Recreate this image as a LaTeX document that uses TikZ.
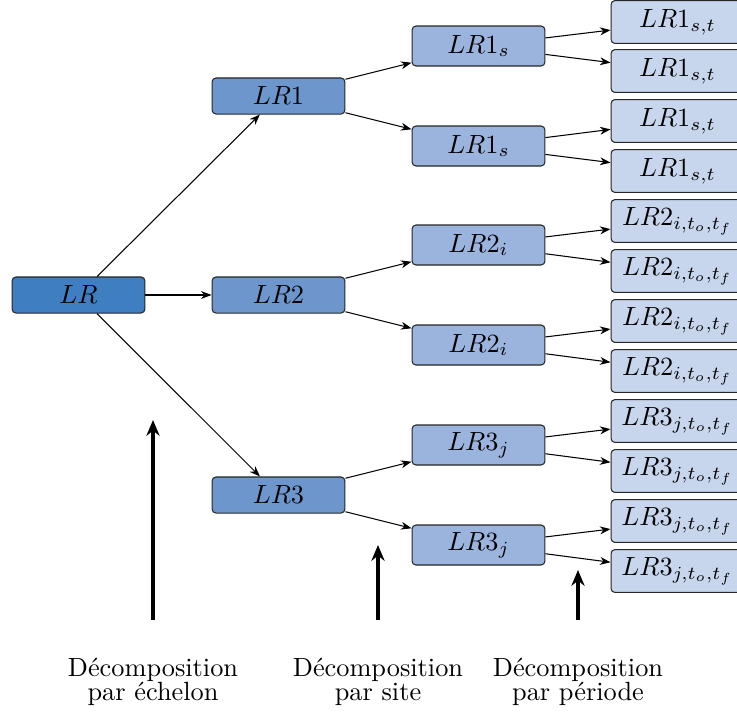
\documentclass[tikz,border=0pt]{standalone}
\usetikzlibrary{arrows.meta}

\definecolor{bleuA}{RGB}{62,126,193}
\definecolor{bleuB}{RGB}{108,150,204}
\definecolor{bleuC}{RGB}{155,180,222}
\definecolor{bleuD}{RGB}{200,214,237}

\tikzset{
  boite/.style={draw=black!85, rounded corners=1.5pt, minimum width=50.5pt, inner sep=2pt},
  niv0/.style={boite, fill=bleuA, minimum height=13.7pt},
  niv1/.style={boite, fill=bleuB, minimum height=13.7pt},
  niv2/.style={boite, fill=bleuC, minimum height=15.2pt},
  niv3/.style={boite, fill=bleuD, minimum height=16.3pt},
  fleche/.style={-{Stealth[length=4pt,width=3pt]}},
  grosse/.style={line width=1.2pt, -{Stealth[length=6pt,width=5pt]}},
  legende/.style={align=center}
}

\begin{document}
\begin{tikzpicture}[x=0.38pt, y=-0.38pt]
    % cadre
    \useasboundingbox (0,0) rectangle (737,715);

    % niveau 0 et 1
    \node[niv0] (LR) at (78.5,295) {$LR$};
    \node[niv1] (LRa) at (278.5,96) {$LR1$};
    \node[niv1] (LRb) at (278.5,295) {$LR2$};
    \node[niv1] (LRc) at (278.5,495) {$LR3$};

    % niveau 2
    \node[niv2] (LRa1) at (478.5,46) {$LR1_s$};
    \node[niv2] (LRa2) at (478.5,146) {$LR1_s$};
    \node[niv2] (LRb1) at (478.5,245) {$LR2_i$};
    \node[niv2] (LRb2) at (478.5,345) {$LR2_i$};
    \node[niv2] (LRc1) at (478.5,445) {$LR3_j$};
    \node[niv2] (LRc2) at (478.5,545) {$LR3_j$};

    % niveau 3
    \node[niv3] (LRa1x) at (677.5,22) {$LR1_{s,t}$};
    \node[niv3] (LRa1y) at (677.5,71) {$LR1_{s,t}$};
    \node[niv3] (LRa2x) at (677.5,121) {$LR1_{s,t}$};
    \node[niv3] (LRa2y) at (677.5,171) {$LR1_{s,t}$};
    \node[niv3] (LRb1x) at (677.5,221) {$LR2_{i,t_o,t_f}$};
    \node[niv3] (LRb1y) at (677.5,271) {$LR2_{i,t_o,t_f}$};
    \node[niv3] (LRb2x) at (677.5,321) {$LR2_{i,t_o,t_f}$};
    \node[niv3] (LRb2y) at (677.5,371) {$LR2_{i,t_o,t_f}$};
    \node[niv3] (LRc1x) at (677.5,421) {$LR3_{j,t_o,t_f}$};
    \node[niv3] (LRc1y) at (677.5,471) {$LR3_{j,t_o,t_f}$};
    \node[niv3] (LRc2x) at (677.5,521) {$LR3_{j,t_o,t_f}$};
    \node[niv3] (LRc2y) at (677.5,571) {$LR3_{j,t_o,t_f}$};

    % fleches
    \draw[fleche] (LR) -- (LRa);
    \draw[fleche] (LR) -- (LRb);
    \draw[fleche] (LR) -- (LRc);
    \draw[fleche] (LRa) -- (LRa1);
    \draw[fleche] (LRa) -- (LRa2);
    \draw[fleche] (LRb) -- (LRb1);
    \draw[fleche] (LRb) -- (LRb2);
    \draw[fleche] (LRc) -- (LRc1);
    \draw[fleche] (LRc) -- (LRc2);
    \draw[fleche] (LRa1) -- (LRa1x);
    \draw[fleche] (LRa1) -- (LRa1y);
    \draw[fleche] (LRa2) -- (LRa2x);
    \draw[fleche] (LRa2) -- (LRa2y);
    \draw[fleche] (LRb1) -- (LRb1x);
    \draw[fleche] (LRb1) -- (LRb1y);
    \draw[fleche] (LRb2) -- (LRb2x);
    \draw[fleche] (LRb2) -- (LRb2y);
    \draw[fleche] (LRc1) -- (LRc1x);
    \draw[fleche] (LRc1) -- (LRc1y);
    \draw[fleche] (LRc2) -- (LRc2x);
    \draw[fleche] (LRc2) -- (LRc2y);

    % legendes
    \node[legende] (ech) at (153,682) {Décomposition\\[-2.9pt] par échelon};
    \node[legende] (site) at (378,682) {Décomposition\\[-2.9pt] par site};
    \node[legende] (per) at (578,682) {Décomposition\\[-2.9pt] par période};

    % grosses fleches
    \coordinate (echB) at (153,620);
    \coordinate (echH) at (153,420);
    \coordinate (siteB) at (378,620);
    \coordinate (siteH) at (378,545);
    \coordinate (perB) at (578,620);
    \coordinate (perH) at (578,570);
    \draw[grosse] (echB) -- (echH);
    \draw[grosse] (siteB) -- (siteH);
    \draw[grosse] (perB) -- (perH);
\end{tikzpicture}
\end{document}
